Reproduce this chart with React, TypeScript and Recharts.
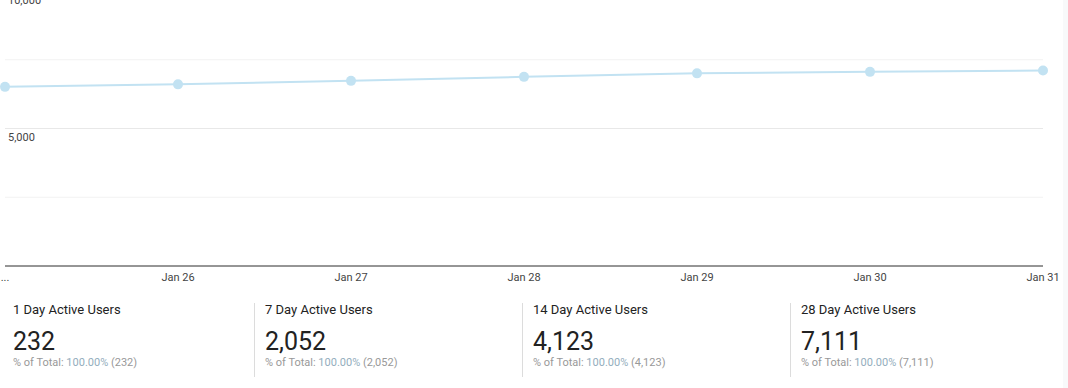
import { LineChart, Line, XAxis, YAxis, CartesianGrid, ReferenceLine } from 'recharts';

// 28 Day Active Users, one point per day
const days = ['Jan 25', 'Jan 26', 'Jan 27', 'Jan 28', 'Jan 29', 'Jan 30', 'Jan 31'];
const activeUsers28 = [6514, 6605, 6732, 6878, 7005, 7060, 7111];

const yTicks = [0, 2500, 5000, 7500, 10000];
const yLabelled = [5000, 10000];

const cardTitles = ['1 Day Active Users', '7 Day Active Users', '14 Day Active Users', '28 Day Active Users'];
const cardValues = ['232', '2,052', '4,123', '7,111'];

const LINE_COLOR = '#c2e2f2';
const FONT = 'Roboto, "Noto Sans", Arial, sans-serif';

const chartData = days.map((day, i) => ({ day, users: activeUsers28[i] }));

// y ticks only drive the grid; the labels sit under their lines (see ReferenceLine)
const NoTick = () => <g />;

export default function App() {
  return (
    <div
      style={{
        position: 'absolute',
        top: 0,
        left: 0,
        width: 1068,
        height: 388,
        overflow: 'hidden',
        background: '#fff',
        fontFamily: FONT,
      }}
    >
      <div style={{ position: 'absolute', top: -9, left: 0 }}>
        <LineChart width={1068} height={300} data={chartData} margin={{ top: 0, right: 25, left: 5, bottom: 5 }}>
          <CartesianGrid vertical={false} stroke="#f2f2f2" />
          <XAxis
            dataKey="day"
            height={20}
            stroke="#333"
            tickLine={false}
            tickSize={5}
            interval={0}
            tick={{ fill: '#444', fontSize: 11, fontFamily: FONT }}
            tickFormatter={(v: string, i: number) => (i === 0 ? '...' : v)}
          />
          <YAxis domain={[0, 10000]} ticks={yTicks} width={0} axisLine={false} tickLine={false} tick={<NoTick />} />
          {yLabelled.map((v) => (
            <ReferenceLine
              key={v}
              y={v}
              stroke={v === 5000 ? '#e8e8e8' : 'none'}
              label={{
                value: v.toLocaleString('en-US'),
                position: 'insideTopLeft',
                offset: 3,
                dy: 2,
                fill: '#444',
                fontSize: 11,
                fontFamily: FONT,
              }}
            />
          ))}
          <Line
            type="linear"
            dataKey="users"
            stroke={LINE_COLOR}
            strokeWidth={2}
            dot={{ r: 5, fill: LINE_COLOR, stroke: LINE_COLOR, strokeWidth: 0 }}
            activeDot={false}
            isAnimationActive={false}
          />
        </LineChart>
      </div>

      <div style={{ position: 'absolute', right: 0, top: 0, width: 5, height: 388, background: '#f8f9fa' }} />

      <div style={{ position: 'absolute', top: 303, left: 0, display: 'flex', height: 74 }}>
        {cardTitles.map((title, i) => (
          <div
            key={title}
            style={{
              width: i === 0 ? 254 : 268,
              boxSizing: 'border-box',
              paddingLeft: i === 0 ? 13 : 10,
              borderLeft: i === 0 ? 'none' : '1px solid #dcdcdc',
              color: '#222',
            }}
          >
            <div style={{ fontSize: 13, lineHeight: '13px' }}>{title}</div>
            <div style={{ fontSize: 25, lineHeight: '25px', marginTop: 13 }}>{cardValues[i]}</div>
            <div style={{ fontSize: 11, lineHeight: '11px', marginTop: 3, color: '#999' }}>
              % of Total: <span style={{ color: '#93adbd' }}>100.00%</span> ({cardValues[i]})
            </div>
          </div>
        ))}
      </div>
    </div>
  );
}
